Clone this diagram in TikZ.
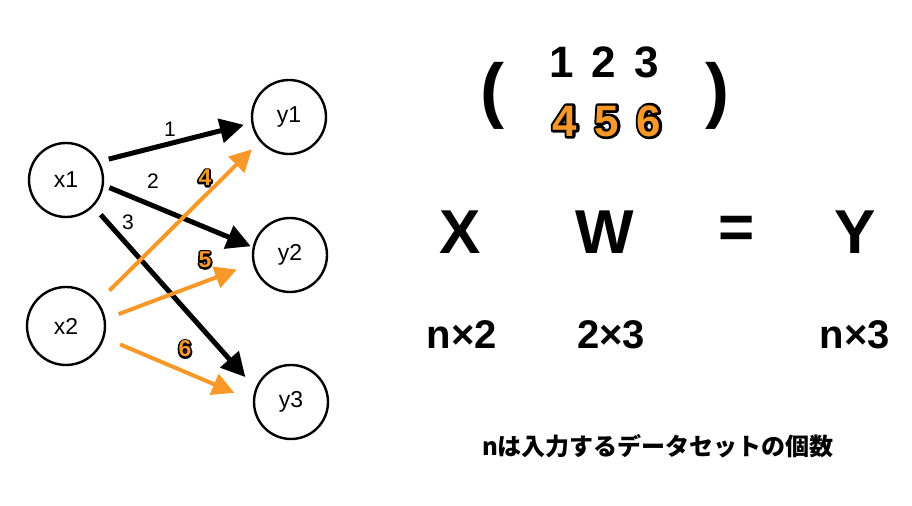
\documentclass[tikz,border=0pt]{standalone}
\usepackage{fontspec}
\setmainfont{Liberation Sans}
\newfontfamily\jpfont{Noto Sans CJK JP}
\usetikzlibrary{arrows.meta}
\definecolor{wgtorange}{RGB}{247,152,40}
\tikzstyle{neuronstyle} = [draw, circle, line width=1.2pt, minimum size=37pt,
  inner sep=0pt, font=\fontsize{11.5}{13}\selectfont]
\tikzstyle{wline} = [line width=2.5pt, -{Triangle[length=12pt,width=12pt]}]
\tikzstyle{oline} = [line width=2pt, color=wgtorange,
  -{Triangle[length=11pt,width=11pt]}]
\tikzstyle{wlabel} = [inner sep=0pt, font=\fontsize{10.5}{12}\selectfont]
\tikzstyle{olabel} = [inner sep=0pt, text=wgtorange,
  font=\bfseries\fontsize{11.5}{12}\selectfont]
\tikzstyle{bigsym} = [inner sep=0pt, font=\bfseries\fontsize{31}{33}\selectfont]
\tikzstyle{dimtext} = [inner sep=0pt, font=\bfseries\fontsize{20}{22}\selectfont]
\tikzstyle{matrow} = [inner sep=0pt, font=\bfseries\fontsize{22}{24}\selectfont]
\tikzstyle{paren} = [inner sep=0pt, font=\bfseries\fontsize{36}{38}\selectfont]
\newcommand{\neuron}[2]{node (#1) [neuronstyle] {#2}}
% orange number with a black rim (stroked copy underneath)
\newcommand{\wnum}[5]{%
  \node [#4, text=black] at #2
    {\special{pdf:literal direct 1 Tr #5 w 1 j}#3\special{pdf:literal direct 0 Tr}};
  \node (#1) [#4] at #2 {#3};}

\begin{document}
\begin{tikzpicture}[x=0.5pt, y=-0.5pt]
\useasboundingbox (0,0) rectangle (912,506);
% Draw units
\path (66,180)  \neuron{x1}{x1};
\path (66,326)  node (x2) [neuronstyle, minimum size=39pt] {x2};
\path (289,117) \neuron{y1}{y1};
\path (290,255) \neuron{y2}{y2};
\path (291,402) \neuron{y3}{y3};

% Draw weights
\draw [wline, shorten <=4.8pt, shorten >=3.8pt] (x1.29) -- (y1.189);
\draw [wline, shorten <=3pt, shorten >=1pt] (x1.352) -- (y2.168);
\draw [wline, shorten <=5.5pt, shorten >=7.5pt] (x1.316) -- (y3.159);
\draw [oline, shorten <=8pt, shorten >=5.5pt] (x2.37) -- (y1.220);
\draw [oline, shorten <=7pt, shorten >=8.5pt] (x2.10) -- (y2.193);
\draw [oline, shorten <=8.5pt, shorten >=10pt] (x2.343) -- (y3.178);

% Weight labels
\node (w1) [wlabel] at (170,129) {1};
\node (w2) [wlabel] at (153,181) {2};
\node (w3) [wlabel] at (128,222) {3};
\wnum{w4}{(205,178)}{4}{olabel}{1.8}
\wnum{w5}{(205,260)}{5}{olabel}{1.8}
\wnum{w6}{(185,349)}{6}{olabel}{1.8}

% Weight matrix
\node (row1) [matrow] at (604,62) {1 \hspace{3pt}2 \hspace{3pt}3};
\wnum{row2}{(607,121)}{\addfontfeature{LetterSpace=40}456}{matrow, text=wgtorange}{2.6}
\node (lpar) [paren] at (492,96) {(};
\node (rpar) [paren] at (717,96) {)};

% Equation
\node (X) [bigsym] at (460,232) {X};
\node (W) [bigsym] at (605,232) {W};
\node (eq) [bigsym] at (737,232) {=};
\node (Y) [bigsym] at (855,232) {Y};
\node (dX) [dimtext] at (462,335) {n×2};
\node (dW) [dimtext] at (611,335) {2×3};
\node (dY) [dimtext] at (855,335) {n×3};
\node (note) [inner sep=0pt, font=\jpfont\bfseries\fontsize{12}{14}\selectfont]
  at (658,446) {nは入力するデータセットの個数};
\end{tikzpicture}
\end{document}
